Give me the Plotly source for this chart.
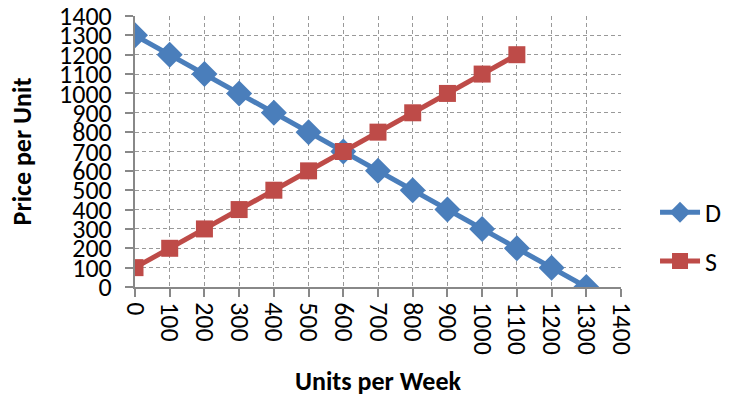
import plotly.graph_objects as go

# Demand and supply schedules
demand_qty = [0, 100, 200, 300, 400, 500, 600, 700, 800, 900, 1000, 1100, 1200, 1300]
demand_price = [1300, 1200, 1100, 1000, 900, 800, 700, 600, 500, 400, 300, 200, 100, 0]
supply_qty = [0, 100, 200, 300, 400, 500, 600, 700, 800, 900, 1000, 1100]
supply_price = [100, 200, 300, 400, 500, 600, 700, 800, 900, 1000, 1100, 1200]
tick_values = list(range(0, 1500, 100))

font_family = "Carlito, Lato, 'Open Sans', sans-serif"

fig = go.Figure()
fig.add_trace(go.Scatter(
    x=demand_qty, y=demand_price, name="D", mode="lines+markers", legendgroup="d",
    line=dict(color="#4A7EBB", width=5),
    marker=dict(symbol="diamond", size=20, color="#4A7EBB"),
))
fig.add_trace(go.Scatter(
    x=supply_qty, y=supply_price, name="S", mode="lines+markers", legendgroup="s",
    line=dict(color="#BE4B48", width=5),
    marker=dict(symbol="square", size=17, color="#BE4B48"),
))

axis_common = dict(
    showgrid=True, gridcolor="#999999", griddash="4px,3px", gridwidth=1,
    showline=True, linecolor="#888888", linewidth=2,
    ticks="outside", ticklen=8, tickcolor="#888888", tickwidth=2,
    zeroline=False, tickvals=tick_values, automargin=False,
    tickfont=dict(size=26, color="black", family=font_family),
)

fig.update_xaxes(
    range=[0, 1400], tickangle=90,
    title=dict(text="<b>Units per Week</b>", font=dict(size=26, color="black", family=font_family), standoff=18),
    **axis_common,
)
fig.update_yaxes(
    range=[0, 1400], ticklabelstandoff=8,
    title=dict(text="<b>Price per Unit</b>", font=dict(size=26, color="black", family=font_family), standoff=20),
    **axis_common,
)

fig.update_layout(
    width=738, height=398,
    margin=dict(l=135, r=115, t=16, b=111),
    plot_bgcolor="white", paper_bgcolor="white",
    legend=dict(x=1.07, y=0.185, xanchor="left", yanchor="middle",
                font=dict(size=26, color="black", family=font_family),
                tracegroupgap=12, itemwidth=40),
    showlegend=True,
)

fig.write_html("out.html")
